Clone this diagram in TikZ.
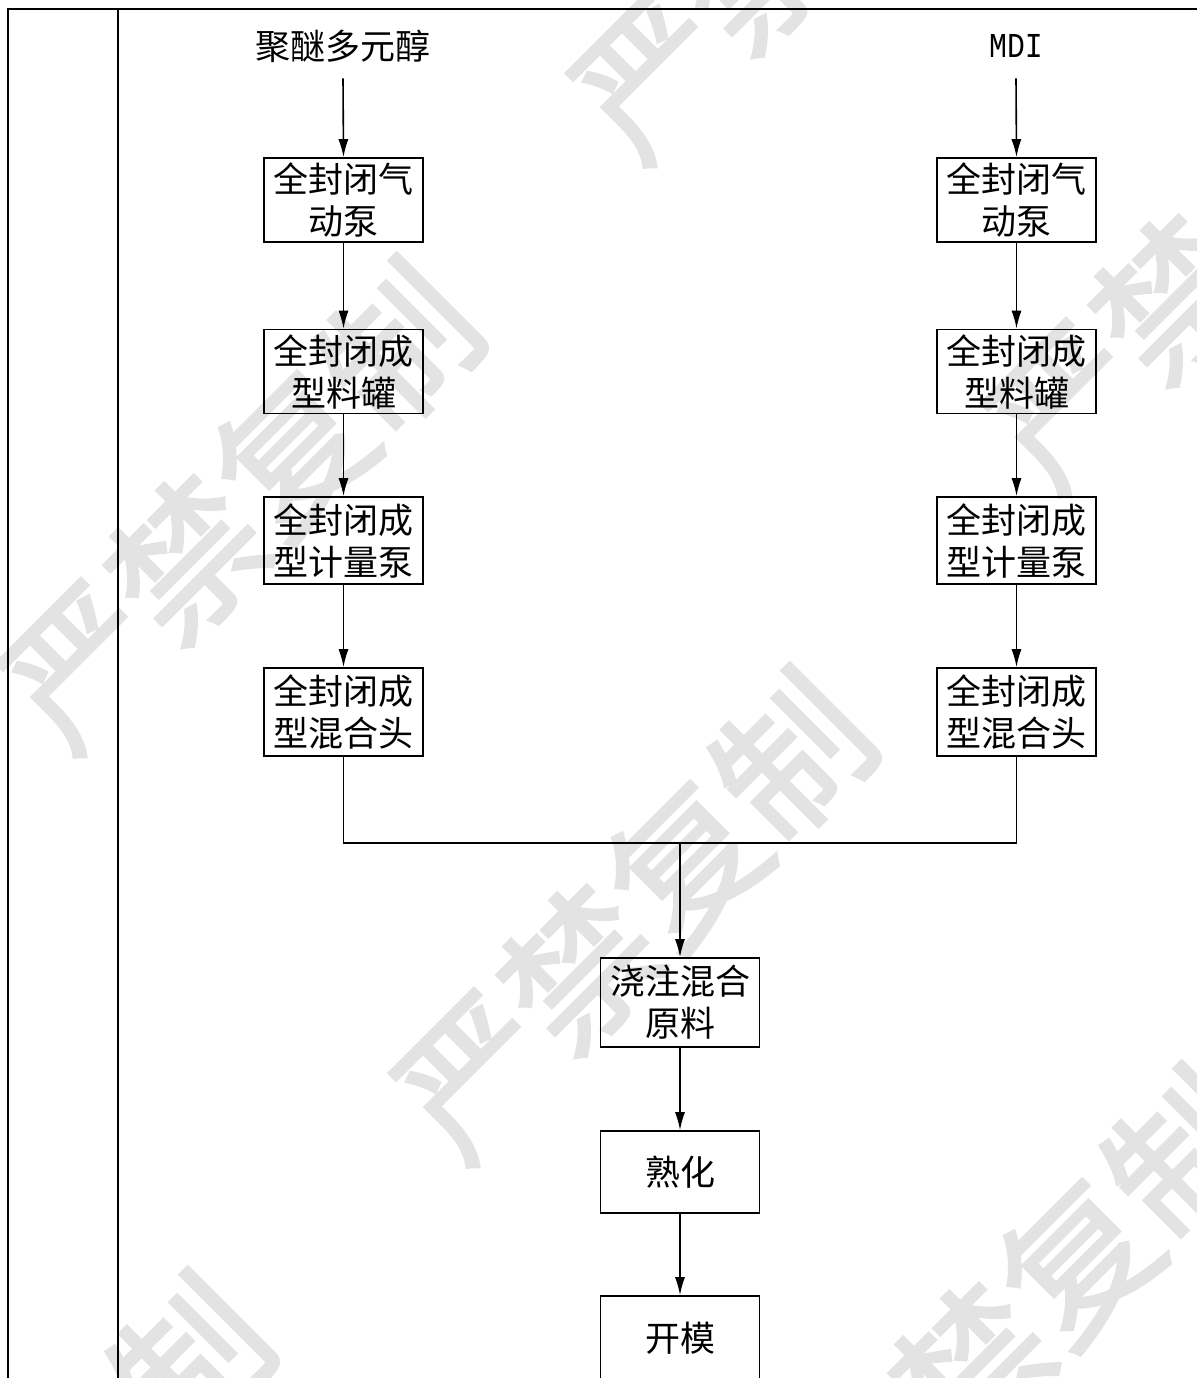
\documentclass[tikz,border=0pt]{standalone}
\usepackage{fontspec}
\setmainfont{Noto Sans CJK SC}
\newfontfamily\wmfont[FakeBold=2]{Noto Sans CJK SC}
\newfontfamily\mdifont[FakeStretch=0.85]{Liberation Mono}
\usetikzlibrary{arrows.meta}
\tikzset{
  procbox/.style={draw, line width=0.8pt, minimum width=79.5pt, minimum height=42pt,
    inner sep=0pt, align=center, font=\fontsize{17.5}{21}\selectfont},
  conn/.style={line width=0.8pt},
  arr/.style={conn, -{Latex[length=9pt,width=5pt]}},
  srclabel/.style={inner sep=0pt, minimum height=32pt, font=\fontsize{17.5}{21}\selectfont},
  wmark/.style={text=black!11, rotate=45, inner sep=0pt, font=\wmfont\fontsize{75}{75}\selectfont},
  frameline/.style={line width=1.4pt},
  innerline/.style={line width=0.8pt}
}
\begin{document}
\begin{tikzpicture}[x=0.5pt,y=-0.5pt]
\useasboundingbox (0,0) rectangle (1197,1378);
\clip (0,0) rectangle (1197,1378);
\fill[white] (0,0) rectangle (1197,1378);
% watermarks
\node[wmark] (wm1) at (240,505) {严禁复制};
\node[wmark] (wm2) at (633,915) {严禁复制};
\node[wmark] (wm3) at (810,-85) {严禁复制};
\node[wmark] (wm4) at (1225,245) {严禁复制};
\node[wmark] (wm5) at (1025,1313) {严禁复制};
\node[wmark] (wm6) at (31,1519) {严禁复制};
% frame
\draw[frameline] (8,1400) -- (8,9) -- (1210,9);
\draw[innerline] (118,9) -- (118,1400);
% labels
\node[srclabel] (src1) at (343,46) {聚醚多元醇};
\node[srclabel] (src2) at (1016,46) {\mdifont MDI};
% left column
\node[procbox] (L1) at (343.5,200) {全封闭气\\动泵};
\node[procbox] (L2) at (343.5,371.5) {全封闭成\\型料罐};
\node[procbox, minimum height=43.5pt] (L3) at (343.5,540.5) {全封闭成\\型计量泵};
\node[procbox, minimum height=44pt] (L4) at (343.5,712) {全封闭成\\型混合头};
% right column
\node[procbox] (R1) at (1016.5,200) {全封闭气\\动泵};
\node[procbox] (R2) at (1016.5,371.5) {全封闭成\\型料罐};
\node[procbox, minimum height=43.5pt] (R3) at (1016.5,540.5) {全封闭成\\型计量泵};
\node[procbox, minimum height=44pt] (R4) at (1016.5,712) {全封闭成\\型混合头};
% center column
\node[procbox, minimum height=44.5pt] (C1) at (680,1002.5) {浇注混合\\原料};
\node[procbox, minimum height=41pt] (C2) at (680,1172) {熟化};
\node[procbox] (C3) at (680,1338) {开模};
% connectors
\draw[arr] (src1.south) -- (L1.north);
\draw[arr] (L1.south) -- (L2.north);
\draw[arr] (L2.south) -- (L3.north);
\draw[arr] (L3.south) -- (L4.north);
\draw[arr] (src2.south) -- (R1.north);
\draw[arr] (R1.south) -- (R2.north);
\draw[arr] (R2.south) -- (R3.north);
\draw[arr] (R3.south) -- (R4.north);
\coordinate (merge) at (680,843);
\draw[conn] (L4.south) |- (merge) -| (R4.south);
\draw[arr] (merge) -- (C1.north);
\draw[arr] (C1.south) -- (C2.north);
\draw[arr] (C2.south) -- (C3.north);
\end{tikzpicture}
\end{document}
